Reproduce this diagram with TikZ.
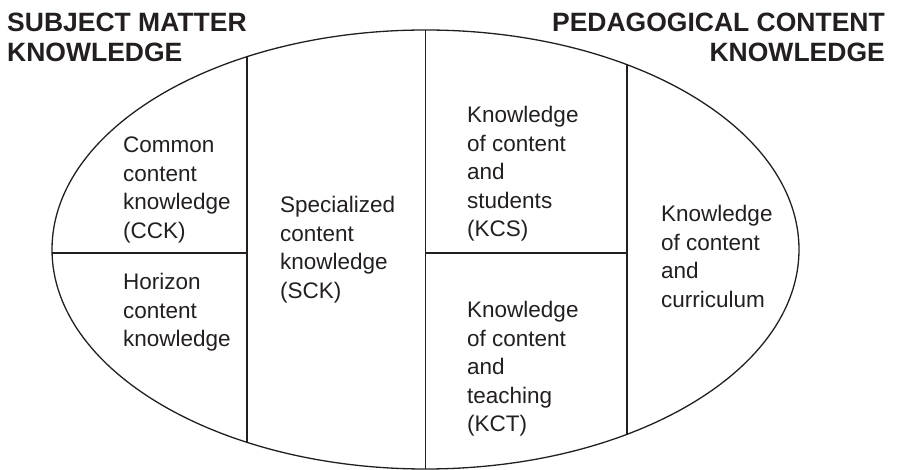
\documentclass[tikz,border=0pt]{standalone}
\usepackage{fontspec}
\setmainfont{Liberation Sans}
\definecolor{ink}{RGB}{35,31,32}
\begin{document}
\begin{tikzpicture}[x=1pt,y=-1pt,
  outline/.style={draw=ink, line width=1.3pt},
  body/.style={font=\fontsize{22.5}{28.4}\selectfont, align=left, inner sep=0pt, text=ink, anchor=base west},
  header/.style={font=\fontsize{26.5}{30}\selectfont\bfseries, inner sep=0pt, text=ink}]
\useasboundingbox (0,0) rectangle (898,470);

% outer ellipse
\coordinate (c) at (425.5,249.5);
\draw[outline] (c) ellipse [x radius=373.5, y radius=219.5];

% points where the dividing lines meet the ellipse
\coordinate (a1) at (247,56.7);
\coordinate (a2) at (247,442.3);
\coordinate (b1) at (425.5,30);
\coordinate (b2) at (425.5,469);
\coordinate (d1) at (627,64.7);
\coordinate (d2) at (627,434.3);
\coordinate (h1) at (52.05,253);
\coordinate (h2) at (247,253);
\coordinate (k1) at (425.5,253);
\coordinate (k2) at (627,253);

% dividing lines
\draw[outline] (a1) -- (a2);
\draw[outline] (b1) -- (b2);
\draw[outline] (d1) -- (d2);
\draw[outline] (h1) -- (h2);
\draw[outline] (k1) -- (k2);

% headings (base anchor = baseline of the last line)
\node[header, align=left, anchor=base west] (smk) at (7,62) {SUBJECT MATTER\\KNOWLEDGE};
\node[header, align=right, anchor=base east] (pck) at (885,62) {PEDAGOGICAL CONTENT\\KNOWLEDGE};

% region labels
\node[body] (cck) at (123,238.2) {Common\\content\\knowledge\\(CCK)};
\node[body] (hck) at (123,346.8) {Horizon\\content\\knowledge};
\node[body] (sck) at (280,298.2) {Specialized\\content\\knowledge\\(SCK)};
\node[body] (kcs) at (467,236.6) {Knowledge\\of content\\and\\students\\(KCS)};
\node[body] (kct) at (467,431.6) {Knowledge\\of content\\and\\teaching\\(KCT)};
\node[body] (kcc) at (661,307.2) {Knowledge\\of content\\and\\curriculum};
\end{tikzpicture}
\end{document}
